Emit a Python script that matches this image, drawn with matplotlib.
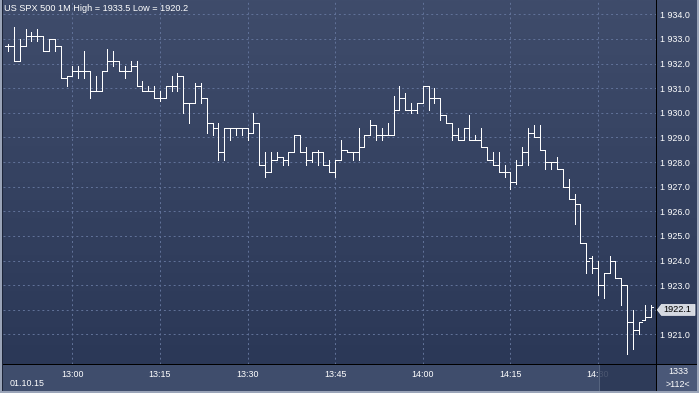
import numpy as np
import pandas as pd
import matplotlib
matplotlib.use("Agg")
import matplotlib.pyplot as plt
from matplotlib.patches import Rectangle, Polygon

# ---------------- data ----------------
start_time = "2015-10-01 12:49"
opens = [1932.7, 1932.7, 1932.1, 1932.7, 1933.1, 1933.1, 1933.1, 1932.5, 1933.0, 1932.7,
         1931.4, 1931.5, 1931.7, 1931.7, 1931.7, 1930.9, 1930.9, 1931.7, 1932.1, 1932.1,
         1931.7, 1931.7, 1931.9, 1931.1, 1930.9, 1930.9, 1930.6, 1930.6, 1931.1, 1931.1,
         1931.5, 1930.4, 1930.4, 1931.1, 1930.6, 1929.6, 1929.4, 1928.4, 1929.4, 1929.4,
         1929.4, 1929.4, 1929.2, 1929.6, 1927.9, 1927.6, 1928.1, 1928.2, 1928.1, 1928.4,
         1929.1, 1928.4, 1928.1, 1928.4, 1928.4, 1927.9, 1927.6, 1928.1, 1928.5, 1928.4,
         1928.4, 1928.6, 1929.1, 1929.5, 1929.1, 1929.1, 1929.1, 1930.1, 1930.6, 1930.1,
         1930.1, 1930.4, 1931.1, 1930.6, 1930.6, 1929.9, 1929.6, 1929.1, 1928.9, 1929.4,
         1928.9, 1928.9, 1928.6, 1928.1, 1927.9, 1927.6, 1927.6, 1927.2, 1927.9, 1928.4,
         1929.2, 1929.0, 1928.5, 1928.0, 1928.0, 1927.7, 1927.0, 1926.5, 1926.3, 1924.7,
         1924.1, 1923.7, 1923.0, 1923.5, 1924.0, 1923.3, 1923.0, 1921.5, 1921.2, 1921.6,
         1921.7]
highs = [1932.8, 1933.5, 1933.0, 1933.4, 1933.3, 1933.4, 1933.1, 1933.0, 1933.0, 1932.7,
         1931.5, 1931.9, 1931.9, 1932.5, 1931.7, 1931.5, 1931.7, 1932.6, 1932.5, 1932.1,
         1931.9, 1932.1, 1932.1, 1931.3, 1931.1, 1931.1, 1930.9, 1931.1, 1931.5, 1931.6,
         1931.5, 1930.4, 1931.2, 1931.2, 1930.6, 1929.6, 1929.6, 1929.4, 1929.4, 1929.4,
         1929.4, 1929.4, 1930.0, 1929.6, 1928.4, 1928.4, 1928.4, 1928.2, 1928.4, 1929.1,
         1929.1, 1928.6, 1928.4, 1928.5, 1928.4, 1928.1, 1928.1, 1928.9, 1928.5, 1928.4,
         1929.4, 1929.1, 1929.7, 1929.5, 1929.4, 1929.6, 1930.7, 1931.1, 1930.8, 1930.4,
         1930.4, 1931.1, 1931.1, 1931.0, 1930.6, 1929.9, 1929.6, 1929.4, 1929.4, 1929.9,
         1929.1, 1929.4, 1928.6, 1928.4, 1928.4, 1927.9, 1927.6, 1928.1, 1928.6, 1929.4,
         1929.5, 1929.5, 1928.5, 1928.0, 1928.2, 1927.7, 1927.3, 1926.7, 1926.3, 1924.7,
         1924.2, 1924.0, 1923.5, 1924.2, 1924.0, 1923.3, 1923.0, 1922.0, 1921.5, 1922.2,
         1922.2]
lows = [1932.5, 1932.1, 1932.1, 1932.7, 1932.9, 1932.9, 1932.5, 1932.5, 1932.5, 1931.4,
        1931.1, 1931.5, 1931.4, 1931.4, 1930.6, 1930.9, 1930.9, 1931.7, 1931.9, 1931.7,
        1931.4, 1931.7, 1931.1, 1930.9, 1930.9, 1930.6, 1930.5, 1930.6, 1930.9, 1930.9,
        1930.0, 1929.6, 1930.4, 1930.4, 1929.2, 1929.1, 1928.1, 1928.1, 1928.9, 1929.1,
        1929.1, 1928.9, 1929.2, 1927.9, 1927.4, 1927.6, 1928.1, 1927.9, 1927.9, 1928.4,
        1928.4, 1927.9, 1928.0, 1927.9, 1927.9, 1927.6, 1927.4, 1928.1, 1928.4, 1928.1,
        1928.1, 1928.6, 1929.1, 1928.9, 1928.9, 1929.1, 1929.1, 1930.1, 1930.1, 1930.0,
        1930.0, 1930.4, 1930.1, 1930.4, 1929.7, 1929.6, 1928.9, 1928.9, 1928.9, 1928.9,
        1928.9, 1928.6, 1928.1, 1927.9, 1927.6, 1927.4, 1926.9, 1927.1, 1927.9, 1927.9,
        1929.0, 1928.5, 1927.7, 1927.7, 1927.7, 1927.0, 1926.5, 1925.5, 1924.7, 1923.5,
        1923.5, 1922.6, 1922.5, 1923.5, 1923.3, 1922.2, 1920.2, 1920.4, 1921.0, 1921.6,
        1921.7]
closes = [1932.7, 1932.1, 1932.7, 1933.1, 1933.1, 1933.1, 1932.5, 1933.0, 1932.7, 1931.4,
          1931.5, 1931.7, 1931.7, 1931.7, 1930.9, 1930.9, 1931.7, 1932.1, 1932.1, 1931.7,
          1931.7, 1931.9, 1931.1, 1930.9, 1930.9, 1930.6, 1930.6, 1931.1, 1931.1, 1931.5,
          1930.4, 1930.4, 1931.1, 1930.6, 1929.6, 1929.4, 1928.4, 1929.4, 1929.4, 1929.4,
          1929.4, 1929.2, 1929.6, 1927.9, 1927.6, 1928.1, 1928.2, 1928.1, 1928.4, 1929.1,
          1928.4, 1928.1, 1928.4, 1928.4, 1927.9, 1927.6, 1928.1, 1928.5, 1928.4, 1928.4,
          1928.6, 1929.1, 1929.5, 1929.1, 1929.1, 1929.1, 1930.1, 1930.6, 1930.1, 1930.1,
          1930.4, 1931.1, 1930.6, 1930.6, 1929.9, 1929.6, 1929.1, 1928.9, 1929.4, 1928.9,
          1928.9, 1928.6, 1928.1, 1927.9, 1927.6, 1927.6, 1927.2, 1927.9, 1928.4, 1929.2,
          1929.0, 1928.5, 1928.0, 1928.0, 1927.7, 1927.0, 1926.5, 1926.3, 1924.7, 1924.0,
          1923.7, 1923.0, 1923.5, 1924.0, 1923.3, 1923.0, 1921.5, 1921.2, 1921.5, 1921.7,
          1922.1]
time_tick_labels = ["13:00", "13:15", "13:30", "13:45", "14:00", "14:15", "14:30"]
price_ticks = [1921, 1922, 1923, 1924, 1925, 1926, 1927, 1928, 1929, 1930, 1931, 1932, 1933, 1934]
title_text = "US SPX 500 1M High = 1933.5 Low = 1920.2"
date_text = "01.10.15"
last_price_text = "1922.1"
footer_top = "1333"
footer_bottom = ">112<"

# ---------------- figure ----------------
W, H = 699, 393
FONT = "Liberation Sans"
plt.rcParams['font.family'] = [FONT, 'DejaVu Sans']

fig = plt.figure(figsize=(W / 100, H / 100), dpi=100)
fig.patch.set_facecolor("#9aa4b8")

def fx(px):
    return px / W

def fy(py):
    return 1 - py / H

# background layer in pixel coordinates
bg = fig.add_axes([0, 0, 1, 1], zorder=0)
bg.set_xlim(0, W)
bg.set_ylim(H, 0)
bg.axis("off")

PLOT_L, PLOT_R, PLOT_T, PLOT_B = 3, 656, 0, 364
grad = np.linspace(0, 1, 256).reshape(-1, 1)
top_c = np.array([0x3f, 0x4c, 0x6b]) / 255
bot_c = np.array([0x2b, 0x38, 0x57]) / 255
img = top_c[None, None, :] * (1 - grad[:, :, None]) + bot_c[None, None, :] * grad[:, :, None]
bg.imshow(img, extent=(PLOT_L, PLOT_R, PLOT_B, PLOT_T), aspect="auto", interpolation="bilinear")
bg.imshow(img, extent=(PLOT_R, 697, PLOT_B, PLOT_T), aspect="auto", interpolation="bilinear")
bg.add_patch(Rectangle((PLOT_L, PLOT_B), PLOT_R - PLOT_L, 391 - PLOT_B, color="#3f4d6c", lw=0))
bg.add_patch(Rectangle((PLOT_R, PLOT_B), 697 - PLOT_R, 391 - PLOT_B, color="#4a5878", lw=0))
bg.set_xlim(0, W)
bg.set_ylim(H, 0)

# ---------------- main price axes ----------------
n = len(opens)
times = pd.date_range(start_time, periods=n, freq="min")
x = np.arange(n)
px_per_bar = 5.84
first_bar_px = 8.1
x_left = (PLOT_L - first_bar_px) / px_per_bar
x_right = (PLOT_R - first_bar_px) / px_per_bar
py_1934 = 14.3
px_per_pt = 24.63
y_top = 1934 + (py_1934 - PLOT_T) / px_per_pt
y_bot = 1934 - (PLOT_B - py_1934) / px_per_pt

ax = fig.add_axes([fx(PLOT_L), fy(PLOT_B), fx(PLOT_R - PLOT_L), (PLOT_B - PLOT_T) / H], zorder=2)
ax.patch.set_alpha(0)
ax.set_xlim(x_left, x_right)
ax.set_ylim(y_bot, y_top)
for s in ax.spines.values():
    s.set_visible(False)

labels_str = times.strftime("%H:%M")
tick_pos = [int(np.where(labels_str == t)[0][0]) for t in time_tick_labels]
ax.set_xticks(tick_pos)
ax.set_xticklabels(time_tick_labels)
ax.set_yticks(price_ticks)
# the label at the last-price level is hidden behind the last-price marker
last_level = int(round(closes[-1]))
ax.set_yticklabels(["" if p == last_level else f"{p // 1000} {p % 1000:03d}.0" for p in price_ticks])
ax.yaxis.tick_right()
ax.tick_params(axis="both", length=0, colors="white", labelsize=6.4)
ax.tick_params(axis="y", pad=2.6)
ax.tick_params(axis="x", pad=4.5)
ax.grid(True, color="#62739a", linestyle=(0, (2, 3)), linewidth=0.7)

lw = 0.7
ax.vlines(x, lows, highs, colors="white", linewidth=lw, antialiased=False, zorder=3)
ax.hlines(opens, x - 0.5, x, colors="white", linewidth=lw, antialiased=False, zorder=3)
ax.hlines(closes, x, x + 0.5, colors="white", linewidth=lw, antialiased=False, zorder=3)

# ---------------- frame lines and decorations (figure level) ----------------
def add_rect(x0, y0, x1, y1, **kw):
    r = Rectangle((fx(x0), fy(y1)), fx(x1 - x0), (y1 - y0) / H, transform=fig.transFigure, **kw)
    fig.add_artist(r)
    return r

add_rect(600, 365, 656, 391, facecolor="#2b3856", alpha=0.85, lw=0, zorder=5)
add_rect(599, 365, 600, 391, facecolor="#56647f", lw=0, zorder=5)
add_rect(PLOT_R, 0, PLOT_R + 1.3, 391, facecolor="black", lw=0, zorder=6)
add_rect(PLOT_L, PLOT_B, 697, PLOT_B + 1.3, facecolor="black", lw=0, zorder=6)
add_rect(2, 0, 3, 391, facecolor="#1c2438", lw=0, zorder=6)

# last price label
last_y_px = py_1934 + (1934 - closes[-1]) * px_per_pt + 2.5
poly = Polygon([(fx(657.3), fy(last_y_px)), (fx(661.5), fy(last_y_px - 5.5)), (fx(695), fy(last_y_px - 5.5)),
                (fx(695), fy(last_y_px + 5.5)), (fx(661.5), fy(last_y_px + 5.5))],
               closed=True, transform=fig.transFigure, facecolor="#d5d9e1", edgecolor="#eef0f4",
               lw=0.5, zorder=7)
fig.add_artist(poly)
fig.text(fx(677), fy(last_y_px), last_price_text, color="black", fontsize=6.6,
         ha="center", va="center", zorder=8)

# texts
fig.text(fx(4), fy(8.5), title_text, color="white", fontsize=6.6, ha="left", va="center", zorder=8)
fig.text(fx(10), fy(383.5), date_text, color="white", fontsize=6.4, ha="left", va="center", zorder=8)
fig.text(fx(678), fy(371), footer_top, color="white", fontsize=6.4, ha="center", va="center", zorder=8)
add_rect(666, 376.6, 693, 377.4, facecolor="#26304a", lw=0, zorder=8)
fig.text(fx(678), fy(384.3), footer_bottom, color="white", fontsize=6.4, ha="center", va="center", zorder=8)

fig.savefig("out.png", dpi=100, facecolor=fig.get_facecolor())
